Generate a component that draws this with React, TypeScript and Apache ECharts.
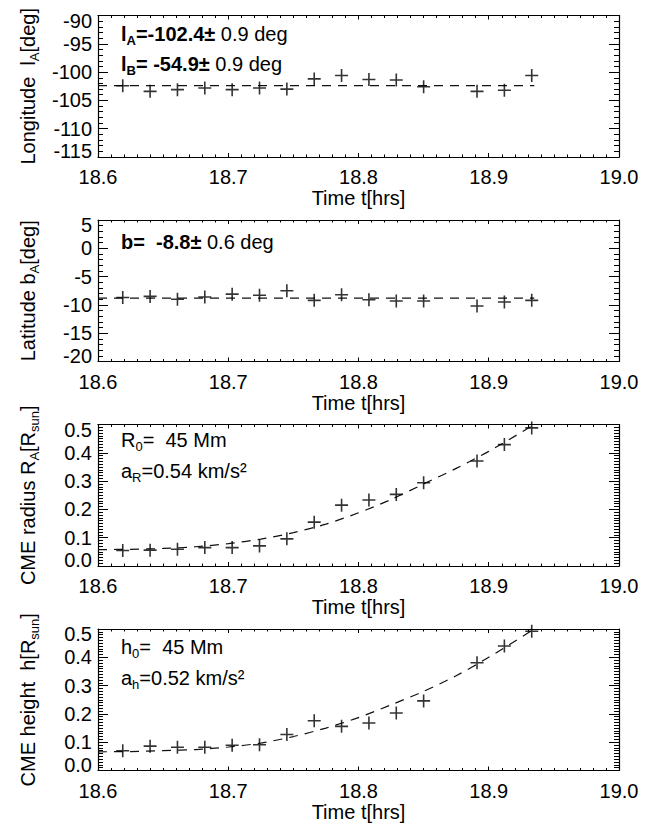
import React, { useEffect, useRef } from "react";
import * as echarts from "echarts";

// Observation times [hrs]
const times = [18.619, 18.640, 18.661, 18.682, 18.703, 18.724, 18.745, 18.766, 18.787, 18.808, 18.829, 18.850, 18.891, 18.912, 18.933];
// Measured values
const longitude = [-102.4, -103.4, -103.1, -102.8, -103.1, -102.8, -103.0, -101.2, -100.6, -101.3, -101.4, -102.6, -103.4, -103.2, -100.6];
const latitude = [-8.7, -8.5, -9.0, -8.6, -8.1, -8.3, -7.5, -9.2, -8.2, -9.1, -9.3, -9.3, -10.2, -9.5, -9.2];
const radius = [0.055, 0.056, 0.059, 0.065, 0.065, 0.071, 0.096, 0.155, 0.215, 0.233, 0.253, 0.294, 0.371, 0.429, 0.488];
const height = [0.070, 0.086, 0.082, 0.082, 0.089, 0.091, 0.127, 0.176, 0.156, 0.168, 0.203, 0.246, 0.381, 0.440, 0.492];

// Fit curves (dashed)
const levelTimes = [18.6, 18.935];
const longitudeFit = [-102.4, -102.4];
const latitudeFit = [-8.8, -8.8];
const fitTimes = [18.600, 18.625, 18.650, 18.675, 18.700, 18.725, 18.750, 18.775, 18.800, 18.825, 18.850, 18.875, 18.900, 18.935];
const radiusFit = [0.058, 0.059, 0.062, 0.068, 0.079, 0.095, 0.118, 0.148, 0.188, 0.235, 0.290, 0.345, 0.405, 0.500];
const heightFit = [0.066, 0.067, 0.070, 0.074, 0.083, 0.097, 0.120, 0.150, 0.187, 0.232, 0.280, 0.335, 0.400, 0.500];

// Axis ranges: [min, max, major interval, minor splits]
const xRange = [18.6, 19.0];
const yRanges = [
  [-115, -90, 5, 5],
  [-20, 5, 5, 5],
  [0, 0.5, 0.1, 10],
  [0, 0.5, 0.1, 10],
];
const yNames = [
  "{n|Longitude  l}{s|A}{n|[deg]}",
  "{n|Latitude b}{s|A}{n|[deg]}",
  "{n|CME radius R}{s|A}{n|[R}{s|sun}{n|]}",
  "{n|CME height  h[R}{s|sun}{n|]}",
];
const xName = "Time t[hrs]";
const annotations = [
  ["{b|l}{bs|A}{b|=-102.4±}{n| 0.9 deg}", "{b|l}{bs|B}{b|= -54.9±}{n| 0.9 deg}"],
  ["{b|b=  -8.8±}{n| 0.6 deg}"],
  ["{n|R}{s|0}{n|=  45 Mm}", "{n|a}{s|R}{n|=0.54 km/s²}"],
  ["{n|h}{s|0}{n|=  45 Mm}", "{n|a}{s|h}{n|=0.52 km/s²}"],
];

const FONT = "Liberation Sans, Arial, Helvetica, sans-serif";
const CROSS = "path://M0,5.7H13V7.3H0Z M5.7,0H7.3V13H5.7Z";

const rich = {
  n: { fontSize: 20, lineHeight: 26, fontFamily: FONT, color: "#000" },
  b: { fontSize: 20, lineHeight: 26, fontFamily: FONT, color: "#000", fontWeight: "bold" },
  s: { fontSize: 13, lineHeight: 13, fontFamily: FONT, color: "#000", verticalAlign: "bottom" },
  bs: { fontSize: 13, lineHeight: 13, fontFamily: FONT, color: "#000", verticalAlign: "bottom", fontWeight: "bold" },
};

const labelRich = {
  mx: { fontSize: 20, fontFamily: FONT, color: "#000", padding: [10, 0, 0, 0] },
  mn: { fontSize: 20, fontFamily: FONT, color: "#000", padding: [0, 0, 12, 0] },
};

export default function App() {
  const ref = useRef<HTMLDivElement>(null);
  useEffect(() => {
    if (!ref.current) return;
    const chart = echarts.init(ref.current, null, { renderer: "svg" });
    const grids: any[] = [];
    const xAxes: any[] = [];
    const yAxes: any[] = [];
    const series: any[] = [];
    const graphics: any[] = [];
    const measured = [longitude, latitude, radius, height];
    const fits = [
      [levelTimes, longitudeFit],
      [levelTimes, latitudeFit],
      [fitTimes, radiusFit],
      [fitTimes, heightFit],
    ];
    const lineCol = "#000";
    for (let i = 0; i < 4; i++) {
      const top = 15.5 + 204.5 * i;
      grids.push({ left: 98, width: 521, top, height: 141.5, outerBoundsMode: "none", containLabel: false });
      const baseX = {
        type: "value",
        gridIndex: i,
        min: xRange[0],
        max: xRange[1],
        interval: 0.1,
        axisLine: { show: true, onZero: false, lineStyle: { color: lineCol, width: 1.2 } },
        axisTick: { show: true, inside: true, length: 4, lineStyle: { color: lineCol, width: 1 } },
        minorTick: { show: true, splitNumber: 10, length: 2.5, lineStyle: { color: lineCol, width: 1 } },
        splitLine: { show: false },
        minorSplitLine: { show: false },
      };
      xAxes.push({
        ...baseX,
        position: "bottom",
        axisLabel: {
          show: true,
          margin: 10,
          fontSize: 20,
          fontFamily: FONT,
          color: "#000",
          showMinLabel: true,
          showMaxLabel: true,
          formatter: (v: number) => v.toFixed(1),
        },
        name: xName,
        nameLocation: "middle",
        nameGap: 31,
        nameTextStyle: { fontSize: 20, fontFamily: FONT, color: "#000" },
      });
      xAxes.push({ ...baseX, position: "top", axisLabel: { show: false } });
      const [ymin, ymax, yint, ysplit] = yRanges[i];
      const baseY = {
        type: "value",
        gridIndex: i,
        min: ymin,
        max: ymax,
        interval: yint,
        axisLine: { show: true, onZero: false, lineStyle: { color: lineCol, width: 1.2 } },
        axisTick: { show: true, inside: true, length: 10, lineStyle: { color: lineCol, width: 1 } },
        minorTick: { show: true, splitNumber: ysplit, length: 5, lineStyle: { color: lineCol, width: 1 } },
        splitLine: { show: false },
        minorSplitLine: { show: false },
      };
      yAxes.push({
        ...baseY,
        position: "left",
        axisLabel: {
          show: true,
          margin: 6,
          fontSize: 20,
          fontFamily: FONT,
          color: "#000",
          showMinLabel: true,
          showMaxLabel: true,
          hideOverlap: false,
          rich: labelRich,
          formatter: (v: number) => {
            const s = yint < 1 ? v.toFixed(1) : String(Math.round(v));
            if (Math.abs(v - ymax) < 1e-9) return "{mx|" + s + "}";
            if (Math.abs(v - ymin) < 1e-9) return "{mn|" + s + "}";
            return s;
          },
        },
        name: yNames[i],
        nameLocation: "middle",
        nameRotate: 90,
        nameGap: 57,
        nameTextStyle: { rich, fontSize: 20, fontFamily: FONT, color: "#000" },
      });
      yAxes.push({ ...baseY, position: "right", axisLabel: { show: false } });

      series.push({
        type: "line",
        xAxisIndex: 2 * i,
        yAxisIndex: 2 * i,
        data: fits[i][0].map((t, k) => [t, fits[i][1][k]]),
        showSymbol: false,
        symbol: "none",
        smooth: i >= 2 ? 0.3 : false,
        lineStyle: { color: "#111", width: 1.2, type: [9, 7] },
        silent: true,
        z: 2,
      });
      series.push({
        type: "scatter",
        xAxisIndex: 2 * i,
        yAxisIndex: 2 * i,
        data: times.map((t, k) => [t, measured[i][k]]),
        symbol: CROSS,
        symbolSize: 13,
        itemStyle: { color: "#000" },
        silent: true,
        z: 3,
      });

      const annY = [
        [34, 64],
        [242],
        [440, 471],
        [647, 678],
      ][i];
      annotations[i].forEach((txt, k) => {
        graphics.push({
          type: "text",
          x: 121,
          y: annY[k],
          style: {
            text: txt,
            rich,
            verticalAlign: "middle",
            align: "left",
            fontFamily: FONT,
          },
        });
      });
    }
    chart.setOption({
      animation: false,
      backgroundColor: "#fff",
      grid: grids,
      xAxis: xAxes,
      yAxis: yAxes,
      series,
      graphic: graphics,
    });
    return () => chart.dispose();
  }, []);
  return (
    <div
      ref={ref}
      style={{ position: "fixed", left: 0, top: 0, width: 662, height: 828, background: "#fff" }}
    />
  );
}
